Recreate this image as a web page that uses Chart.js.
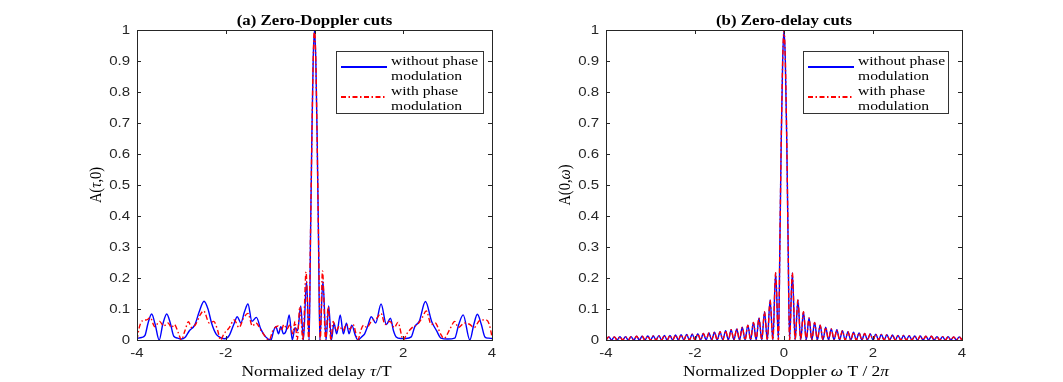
<!DOCTYPE html>
<html>
<head>
<meta charset="utf-8">
<script src="https://cdn.jsdelivr.net/npm/chart.js@4.4.1/dist/chart.umd.min.js"></script>
<style>
  html, body { margin: 0; padding: 0; background: #fff; }
  #wrap { position: relative; width: 1063px; height: 382px; overflow: hidden; }
  canvas { position: absolute; top: 0; }
</style>
</head>
<body>
<div id="wrap">
  <canvas id="delayChart" width="531" height="382" style="left:0"></canvas>
  <canvas id="dopplerChart" width="532" height="382" style="left:531px"></canvas>
</div>
<script>
// (a) zero-Doppler cut, without phase modulation (blue)
const delayXNoMod = [
  -4, -3.9, -3.82, -3.75, -3.67, -3.59, -3.5, -3.42, -3.33, -3.25,
  -3.17, -3.08, -3, -2.92, -2.82, -2.7, -2.6, -2.49, -2.4, -2.32,
  -2.22, -2.12, -2.02, -1.92, -1.82, -1.74, -1.66, -1.58, -1.5, -1.41,
  -1.31, -1.21, -1.1, -0.98, -0.92, -0.87, -0.81, -0.76, -0.7, -0.64,
  -0.57, -0.5, -0.44, -0.38, -0.31, -0.25, -0.18, -0.12, -0.09, -0.06,
  -0.03, 0, 0.03, 0.06, 0.09, 0.12, 0.19, 0.26, 0.32, 0.38,
  0.44, 0.5, 0.58, 0.65, 0.72, 0.78, 0.84, 0.92, 0.98, 1.06,
  1.13, 1.2, 1.28, 1.38, 1.5, 1.62, 1.71, 1.78, 1.84, 1.94,
  2.06, 2.18, 2.26, 2.36, 2.5, 2.64, 2.75, 2.85, 3, 3.16,
  3.25, 3.35, 3.5, 3.59, 3.67, 3.76, 3.84, 3.92, 4
];
const delayNoMod = [
  0.005, 0.008, 0.015, 0.055, 0.084, 0.05, 0, 0.05, 0.084, 0.055,
  0.012, 0.006, 0.003, 0.008, 0.03, 0.048, 0.09, 0.125, 0.1, 0.055,
  0.02, 0.008, 0.004, 0.015, 0.05, 0.075, 0.055, 0.09, 0.116, 0.06,
  0.073, 0.035, 0.01, 0, 0.03, 0.043, 0.02, 0.043, 0.02, 0.03,
  0.081, 0, 0.04, 0.03, 0.11, 0, 0.19, 0, 0.33, 0.65,
  0.9, 1, 0.9, 0.65, 0.33, 0, 0.19, 0, 0.11, 0,
  0.054, 0.02, 0.081, 0.02, 0.054, 0.02, 0.048, 0.015, 0, 0.01,
  0.02, 0.045, 0.075, 0.055, 0.116, 0.05, 0.07, 0.03, 0.01, 0.005,
  0.005, 0.01, 0.043, 0.06, 0.124, 0.06, 0.03, 0.006, 0.003, 0.006,
  0.05, 0.081, 0, 0.05, 0.083, 0.05, 0.01, 0.006, 0.005
];

// (a) zero-Doppler cut, with phase modulation (red dash-dot)
const delayXWithMod = [
  -4, -3.95, -3.88, -3.78, -3.7, -3.6, -3.49, -3.4, -3.3, -3.22,
  -3.16, -3.06, -3, -2.92, -2.84, -2.77, -2.68, -2.58, -2.5, -2.37,
  -2.27, -2.18, -2.12, -2.04, -1.92, -1.81, -1.7, -1.6, -1.5, -1.4,
  -1.32, -1.2, -1.02, -0.94, -0.82, -0.75, -0.69, -0.62, -0.55, -0.49,
  -0.44, -0.39, -0.33, -0.26, -0.19, -0.13, -0.09, -0.06, -0.03, 0,
  0.03, 0.06, 0.09, 0.13, 0.18, 0.25, 0.31, 0.37, 0.42, 0.49,
  0.56, 0.64, 0.72, 0.8, 0.87, 0.98, 1.04, 1.11, 1.18, 1.28,
  1.4, 1.5, 1.59, 1.7, 1.8, 1.88, 2, 2.08, 2.2, 2.32,
  2.42, 2.52, 2.63, 2.72, 2.84, 2.92, 3.05, 3.16, 3.24, 3.38,
  3.5, 3.6, 3.72, 3.86, 3.94, 4
];
const delayWithMod = [
  0, 0.04, 0.062, 0.065, 0.072, 0.043, 0.06, 0.045, 0.055, 0.04,
  0.05, 0.02, 0, 0.03, 0.059, 0.04, 0.05, 0.08, 0.094, 0.055,
  0.06, 0.03, 0, 0.02, 0.04, 0.065, 0.04, 0.07, 0.086, 0.045,
  0.055, 0.03, 0, 0.03, 0.045, 0.03, 0.05, 0.035, 0.05, 0.02,
  0.06, 0, 0.107, 0, 0.22, 0, 0.34, 0.64, 0.9, 1,
  0.9, 0.64, 0.34, 0, 0.223, 0, 0.107, 0, 0.06, 0.03,
  0.045, 0.03, 0.05, 0.035, 0.05, 0, 0.03, 0.048, 0.04, 0.06,
  0.07, 0.086, 0.05, 0.06, 0.04, 0.057, 0, 0.02, 0.04, 0.05,
  0.07, 0.094, 0.05, 0.055, 0.02, 0.005, 0.035, 0.06, 0.04, 0.055,
  0.05, 0.04, 0.063, 0.065, 0.05, 0.01
];

// (b) zero-delay cut (both curves lie on top of each other)
const dopplerX = [
  -4, -3.9375, -3.875, -3.8125, -3.75, -3.6875, -3.625, -3.5625,
  -3.5, -3.4375, -3.375, -3.3125, -3.25, -3.1875, -3.125, -3.0625,
  -3, -2.9375, -2.875, -2.8125, -2.75, -2.6875, -2.625, -2.5625,
  -2.5, -2.4375, -2.375, -2.3125, -2.25, -2.1875, -2.125, -2.0625,
  -2, -1.9375, -1.875, -1.8125, -1.75, -1.6875, -1.625, -1.5625,
  -1.5, -1.4375, -1.375, -1.3125, -1.25, -1.1875, -1.125, -1.0625,
  -1, -0.9375, -0.875, -0.8125, -0.75, -0.6875, -0.625, -0.5625,
  -0.5, -0.4375, -0.375, -0.3125, -0.25, -0.1875, -0.125, -0.09,
  -0.0625, -0.03, 0, 0.03, 0.0625, 0.09, 0.125, 0.1875,
  0.25, 0.3125, 0.375, 0.4375, 0.5, 0.5625, 0.625, 0.6875,
  0.75, 0.8125, 0.875, 0.9375, 1, 1.0625, 1.125, 1.1875,
  1.25, 1.3125, 1.375, 1.4375, 1.5, 1.5625, 1.625, 1.6875,
  1.75, 1.8125, 1.875, 1.9375, 2, 2.0625, 2.125, 2.1875,
  2.25, 2.3125, 2.375, 2.4375, 2.5, 2.5625, 2.625, 2.6875,
  2.75, 2.8125, 2.875, 2.9375, 3, 3.0625, 3.125, 3.1875,
  3.25, 3.3125, 3.375, 3.4375, 3.5, 3.5625, 3.625, 3.6875,
  3.75, 3.8125, 3.875, 3.9375, 4
];
const dopplerNoMod = [
  0, 0.010, 0, 0.010, 0, 0.011, 0, 0.011,
  0, 0.011, 0, 0.012, 0, 0.012, 0, 0.013,
  0, 0.013, 0, 0.014, 0, 0.015, 0, 0.015,
  0, 0.016, 0, 0.017, 0, 0.018, 0, 0.019,
  0, 0.020, 0, 0.021, 0, 0.023, 0, 0.025,
  0, 0.027, 0, 0.030, 0, 0.033, 0, 0.036,
  0, 0.041, 0, 0.048, 0, 0.057, 0, 0.071,
  0, 0.091, 0, 0.129, 0, 0.217, 0, 0.34,
  0.64, 0.9, 1, 0.9, 0.64, 0.34, 0, 0.217,
  0, 0.129, 0, 0.091, 0, 0.071, 0, 0.057,
  0, 0.048, 0, 0.041, 0, 0.036, 0, 0.033,
  0, 0.030, 0, 0.027, 0, 0.025, 0, 0.023,
  0, 0.021, 0, 0.020, 0, 0.019, 0, 0.018,
  0, 0.017, 0, 0.016, 0, 0.015, 0, 0.015,
  0, 0.014, 0, 0.013, 0, 0.013, 0, 0.012,
  0, 0.012, 0, 0.011, 0, 0.011, 0, 0.011,
  0, 0.010, 0, 0.010, 0
];
const dopplerWithMod = [
  0, 0.010, 0, 0.010, 0, 0.011, 0, 0.011,
  0, 0.011, 0, 0.012, 0, 0.012, 0, 0.013,
  0, 0.013, 0, 0.014, 0, 0.015, 0, 0.015,
  0, 0.016, 0, 0.017, 0, 0.018, 0, 0.019,
  0, 0.020, 0, 0.021, 0, 0.023, 0, 0.025,
  0, 0.027, 0, 0.030, 0, 0.033, 0, 0.036,
  0, 0.041, 0, 0.048, 0, 0.057, 0, 0.071,
  0, 0.091, 0, 0.129, 0, 0.217, 0, 0.34,
  0.64, 0.9, 1, 0.9, 0.64, 0.34, 0, 0.217,
  0, 0.129, 0, 0.091, 0, 0.071, 0, 0.057,
  0, 0.048, 0, 0.041, 0, 0.036, 0, 0.033,
  0, 0.030, 0, 0.027, 0, 0.025, 0, 0.023,
  0, 0.021, 0, 0.020, 0, 0.019, 0, 0.018,
  0, 0.017, 0, 0.016, 0, 0.015, 0, 0.015,
  0, 0.014, 0, 0.013, 0, 0.013, 0, 0.012,
  0, 0.012, 0, 0.011, 0, 0.011, 0, 0.011,
  0, 0.010, 0, 0.010, 0
];

const xTicks = [-4, -2, 0, 2, 4];
const delayXTickLabels = ["-4", "-2", "", "2", "4"];
const dopplerXTickLabels = ["-4", "-2", "0", "2", "4"];
const yTicks = [0, 0.1, 0.2, 0.3, 0.4, 0.5, 0.6, 0.7, 0.8, 0.9, 1];
const yTickLabels = ["0", "0.1", "0.2", "0.3", "0.4", "0.5", "0.6", "0.7", "0.8", "0.9", "1"];
const legendLines = [["without phase", "modulation"], ["with phase", "modulation"]];

// the reference figure is stretched sideways, so its text is as well
const SX = 1.2;
const SANS = '12.5px "Liberation Sans", Arial, sans-serif';
const SERIF = '14.5px "Liberation Serif", "Times New Roman", serif';
const SERIF_I = 'italic 14.5px "Liberation Serif", "Times New Roman", serif';
const TITLE = 'bold 14px "Liberation Serif", "Times New Roman", serif';
const LEG = '13px "Liberation Serif", "Times New Roman", serif';
const BLUE = "#0000ff";
const RED = "#ff0000";
const DASHDOT = [5, 2.5, 1.5, 2.5];

function drawParts(ctx, parts, x, y, align, baseline, rotate) {
    ctx.save();
    ctx.translate(x, y);
    ctx.scale(SX, 1);
    if (rotate) ctx.rotate(-Math.PI / 2);
    ctx.textBaseline = baseline;
    ctx.textAlign = "left";
    let total = 0;
    parts.forEach(p => { ctx.font = p[1]; total += ctx.measureText(p[0]).width; });
    let cx = align === "center" ? -total / 2 : align === "right" ? -total : 0;
    parts.forEach(p => {
        ctx.font = p[1];
        ctx.fillText(p[0], cx, 0);
        cx += ctx.measureText(p[0]).width;
    });
    ctx.restore();
}

function sampleLine(ctx, x0, x1, y, color, dash) {
    ctx.save();
    ctx.beginPath();
    ctx.lineWidth = 1.8;
    ctx.strokeStyle = color;
    ctx.setLineDash(dash);
    ctx.moveTo(x0, y);
    ctx.lineTo(x1, y);
    ctx.stroke();
    ctx.restore();
}

const frame = {
    id: "frame",
    afterDraw(chart) {
        const o = chart.config.options.frameSetup;
        const ctx = chart.ctx;
        const a = chart.chartArea;
        const x = chart.scales.x, y = chart.scales.y;
        ctx.save();
        ctx.strokeStyle = "#262626";
        ctx.lineWidth = 1;
        ctx.strokeRect(a.left + 0.5, a.top + 0.5, a.right - a.left, a.bottom - a.top);

        ctx.beginPath();
        xTicks.forEach(v => {
            const px = Math.round(x.getPixelForValue(v)) + 0.5;
            ctx.moveTo(px, a.bottom); ctx.lineTo(px, a.bottom - 4);
            ctx.moveTo(px, a.top); ctx.lineTo(px, a.top + 4);
        });
        yTicks.forEach(v => {
            const py = Math.round(y.getPixelForValue(v)) + 0.5;
            ctx.moveTo(a.left, py); ctx.lineTo(a.left + 4, py);
            ctx.moveTo(a.right, py); ctx.lineTo(a.right - 4, py);
        });
        ctx.stroke();

        ctx.fillStyle = "#262626";
        xTicks.forEach((v, i) => {
            drawParts(ctx, [[o.xTickLabels[i], SANS]], x.getPixelForValue(v), a.bottom + 14, "center", "middle");
        });
        yTicks.forEach((v, i) => {
            drawParts(ctx, [[yTickLabels[i], SANS]], a.left - 7, y.getPixelForValue(v) + 1, "right", "middle");
        });

        ctx.fillStyle = "#000";
        const cx = (a.left + a.right) / 2;
        drawParts(ctx, [[o.title, TITLE]], cx, 25, "center", "alphabetic");
        drawParts(ctx, o.xLabel, cx + 2, 376, "center", "alphabetic");
        drawParts(ctx, o.yLabel, a.left - 41, (a.top + a.bottom) / 2, "center", "middle", true);

        // legend box
        const L = a.right - o.legendFromRight, R = a.right - o.legendToRight;
        const T = 51, B = 113;
        ctx.fillStyle = "#fff";
        ctx.fillRect(L, T, R - L, B - T);
        ctx.strokeStyle = "#333";
        ctx.strokeRect(L + 0.5, T + 0.5, R - L, B - T);
        ctx.restore();

        sampleLine(ctx, L + 5, L + 51, T + 16, BLUE, []);
        sampleLine(ctx, L + 5, L + 51, T + 46, RED, DASHDOT);

        ctx.save();
        ctx.fillStyle = "#000";
        legendLines.forEach((lines, i) => {
            lines.forEach((t, j) => {
                drawParts(ctx, [[t, LEG]], L + 55, T + 14 + i * 30 + j * 15, "left", "alphabetic");
            });
        });
        ctx.restore();
    }
};

function toPoints(xs, ys) {
    return xs.map((v, i) => ({ x: v, y: ys[i] }));
}

function makeChart(id, blue, red, o) {
    return new Chart(document.getElementById(id), {
        type: "line",
        data: {
            datasets: [
                {
                    data: blue, borderColor: BLUE, borderWidth: 1.4, pointRadius: 0,
                    cubicInterpolationMode: "monotone", order: 2
                },
                {
                    data: red, borderColor: RED, borderWidth: 1.4, pointRadius: 0,
                    borderDash: DASHDOT, cubicInterpolationMode: "monotone", order: 1
                }
            ]
        },
        options: {
            responsive: false,
            animation: false,
            devicePixelRatio: 1,
            frameSetup: o,
            layout: { padding: { top: 30, right: o.padRight, left: 0, bottom: 0 } },
            plugins: { legend: { display: false }, tooltip: { enabled: false } },
            scales: {
                x: {
                    type: "linear", min: -4, max: 4,
                    ticks: { display: false },
                    grid: { display: false, drawTicks: false },
                    border: { display: false },
                    afterFit(s) { s.height = 42; }
                },
                y: {
                    min: 0, max: 1,
                    ticks: { display: false },
                    grid: { display: false, drawTicks: false },
                    border: { display: false },
                    afterFit(s) { s.width = o.axisLeft; }
                }
            }
        },
        plugins: [frame]
    });
}

makeChart("delayChart",
    toPoints(delayXNoMod, delayNoMod),
    toPoints(delayXWithMod, delayWithMod),
    {
        padRight: 39, axisLeft: 137,
        title: "(a) Zero-Doppler cuts",
        xTickLabels: delayXTickLabels,
        xLabel: [["Normalized delay ", SERIF], ["\u03c4", SERIF_I], ["/T", SERIF]],
        yLabel: [["A(", SERIF], ["\u03c4", SERIF_I], [",0)", SERIF]],
        legendFromRight: 156, legendToRight: 9
    });

makeChart("dopplerChart",
    toPoints(dopplerX, dopplerNoMod),
    toPoints(dopplerX, dopplerWithMod),
    {
        padRight: 101, axisLeft: 75,
        title: "(b) Zero-delay cuts",
        xTickLabels: dopplerXTickLabels,
        xLabel: [["Normalized Doppler ", SERIF], ["\u03c9", SERIF_I], [" T / 2", SERIF], ["\u03c0", SERIF_I]],
        yLabel: [["A(0,", SERIF], ["\u03c9", SERIF_I], [")", SERIF]],
        legendFromRight: 159, legendToRight: 14
    });
</script>
</body>
</html>
